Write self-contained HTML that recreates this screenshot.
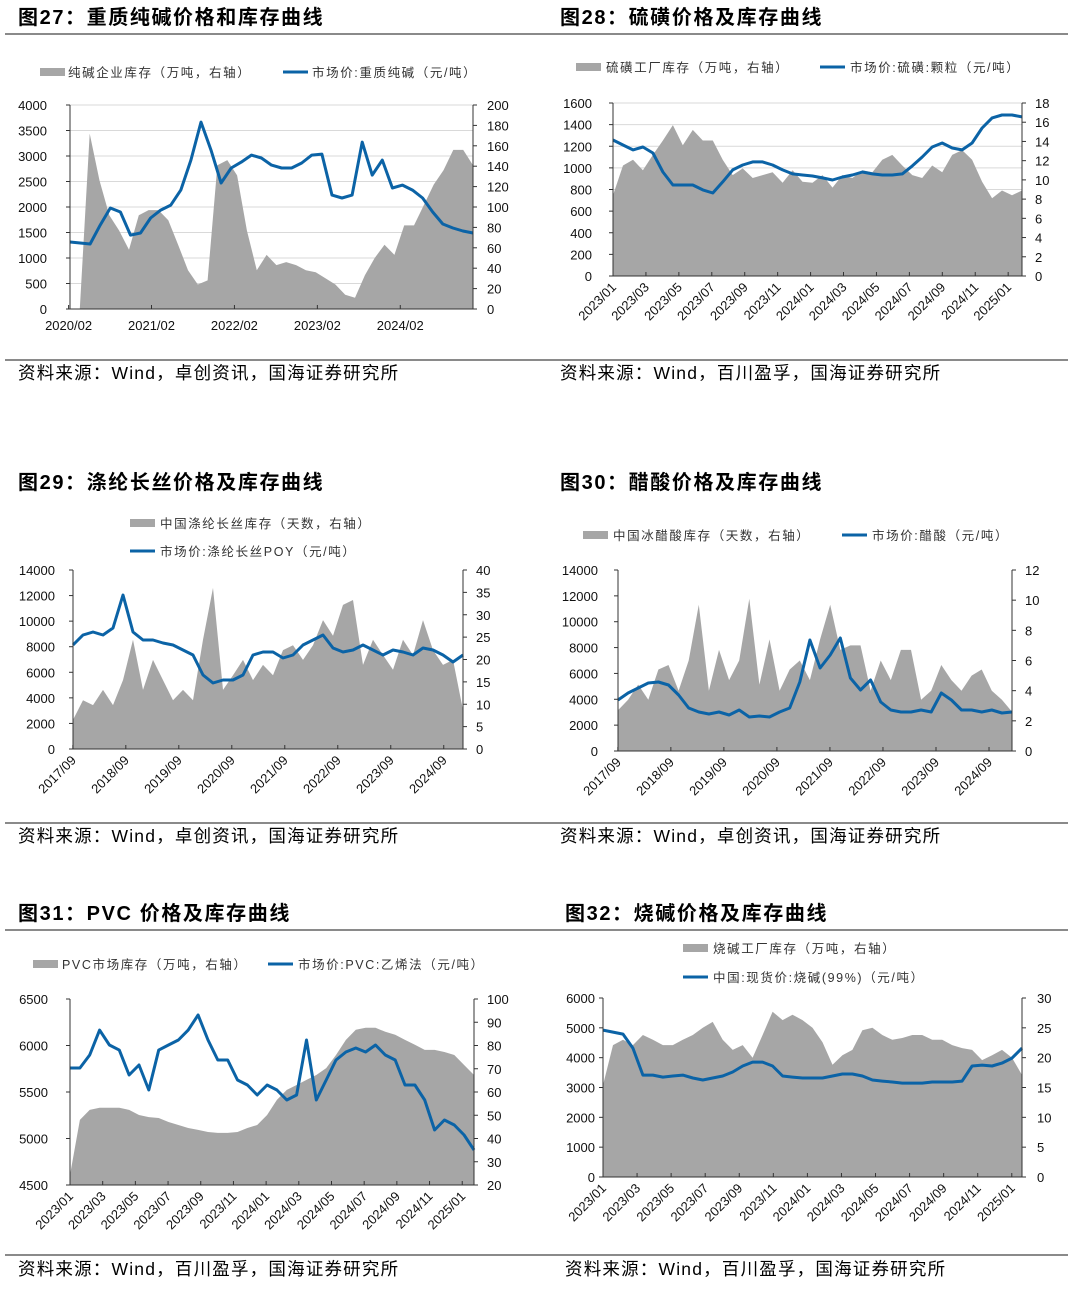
<!DOCTYPE html>
<html><head><meta charset="utf-8">
<style>
html,body{margin:0;padding:0;background:#fff;}
svg{display:block;font-family:"Liberation Sans","Noto Sans CJK SC",sans-serif;}
.title{font-size:20px;font-weight:bold;fill:#000;letter-spacing:1.6px;}
.src{font-size:17.5px;fill:#000;letter-spacing:1.2px;}
.leg{font-size:12.5px;fill:#333;letter-spacing:1.6px;}
.tick{font-size:13px;fill:#111;}
</style></head>
<body>
<svg id="page" width="1080" height="1292" viewBox="0 0 1080 1292" xmlns="http://www.w3.org/2000/svg">
<text class="title" x="18" y="24">图27：重质纯碱价格和库存曲线</text>
<text class="title" x="560" y="24">图28：硫磺价格及库存曲线</text>
<text class="title" x="18" y="489">图29：涤纶长丝价格及库存曲线</text>
<text class="title" x="560" y="489">图30：醋酸价格及库存曲线</text>
<text class="title" x="18" y="920">图31：PVC 价格及库存曲线</text>
<text class="title" x="565" y="920">图32：烧碱价格及库存曲线</text>
<line x1="5" y1="34" x2="1068" y2="34" stroke="#444" stroke-width="1.2"/>
<line x1="5" y1="360" x2="1068" y2="360" stroke="#444" stroke-width="1.2"/>
<line x1="5" y1="823" x2="1068" y2="823" stroke="#444" stroke-width="1.2"/>
<line x1="5" y1="930" x2="1068" y2="930" stroke="#444" stroke-width="1.2"/>
<line x1="5" y1="1255" x2="1068" y2="1255" stroke="#444" stroke-width="1.2"/>
<text class="src" x="18" y="379">资料来源：Wind，卓创资讯，国海证券研究所</text>
<text class="src" x="560" y="379">资料来源：Wind，百川盈孚，国海证券研究所</text>
<text class="src" x="18" y="842">资料来源：Wind，卓创资讯，国海证券研究所</text>
<text class="src" x="560" y="842">资料来源：Wind，卓创资讯，国海证券研究所</text>
<text class="src" x="18" y="1275">资料来源：Wind，百川盈孚，国海证券研究所</text>
<text class="src" x="565" y="1275">资料来源：Wind，百川盈孚，国海证券研究所</text>
<g>
<rect x="40" y="68" width="25" height="8" fill="#a6a6a6"/>
<text class="leg" x="68" y="77">纯碱企业库存（万吨，右轴）</text>
<line x1="283" y1="72" x2="308" y2="72" stroke="#0b63a6" stroke-width="3"/>
<text class="leg" x="312" y="77">市场价:重质纯碱（元/吨）</text>
</g>
<g>
<rect x="576" y="63" width="25" height="8" fill="#a6a6a6"/>
<text class="leg" x="606" y="72">硫磺工厂库存（万吨，右轴）</text>
<line x1="820" y1="67" x2="845" y2="67" stroke="#0b63a6" stroke-width="3"/>
<text class="leg" x="850" y="72">市场价:硫磺:颗粒（元/吨）</text>
</g>
<g>
<rect x="130" y="519" width="25" height="8" fill="#a6a6a6"/>
<text class="leg" x="160" y="528">中国涤纶长丝库存（天数，右轴）</text>
<line x1="130" y1="551" x2="155" y2="551" stroke="#0b63a6" stroke-width="3"/>
<text class="leg" x="160" y="556">市场价:涤纶长丝POY（元/吨）</text>
</g>
<g>
<rect x="583" y="531" width="25" height="8" fill="#a6a6a6"/>
<text class="leg" x="613" y="540">中国冰醋酸库存（天数，右轴）</text>
<line x1="842" y1="535" x2="867" y2="535" stroke="#0b63a6" stroke-width="3"/>
<text class="leg" x="872" y="540">市场价:醋酸（元/吨）</text>
</g>
<g>
<rect x="33" y="960" width="25" height="8" fill="#a6a6a6"/>
<text class="leg" x="62" y="969">PVC市场库存（万吨，右轴）</text>
<line x1="268" y1="964" x2="293" y2="964" stroke="#0b63a6" stroke-width="3"/>
<text class="leg" x="298" y="969">市场价:PVC:乙烯法（元/吨）</text>
</g>
<g>
<rect x="683" y="944" width="25" height="8" fill="#a6a6a6"/>
<text class="leg" x="713" y="953">烧碱工厂库存（万吨，右轴）</text>
<line x1="683" y1="977" x2="708" y2="977" stroke="#0b63a6" stroke-width="3"/>
<text class="leg" x="713" y="982">中国:现货价:烧碱(99%)（元/吨）</text>
</g>
<g id="charts"></g>
</svg>
<script>
// ---- Chart 27: 重质纯碱 ----
const c27Price=[1313,1294,1274,1646,1980,1901,1450,1490,1784,1940,2038,2332,2920,3665,3116,2470,2764,2881,3018,2960,2822,2764,2764,2862,3018,3038,2234,2176,2234,3273,2626,2920,2372,2430,2332,2176,1901,1666,1588,1529,1490];
const c27Inv=[0,0,172,126,92,77,58,92,97,97,87,63,38,24,28,141,146,131,77,38,53,43,46,43,38,36,30,24,14,11,33,50,63,53,82,82,102,122,136,156,156,141];
const c27XTicks=["2020/02","2021/02","2022/02","2023/02","2024/02"];
const c27XTickDates=[2020.083,2021.083,2022.083,2023.083,2024.083];
const c27Span=[2020.1,2024.96];
// ---- Chart 28: 硫磺 ----
const c28Price=[1258,1212,1166,1193,1138,962,842,842,842,796,768,870,981,1027,1055,1055,1027,981,944,934,925,907,888,916,934,962,944,934,934,944,1018,1101,1193,1230,1184,1166,1230,1369,1462,1489,1489,1471];
const c28Inv=[8.4,11.5,12.1,11.0,12.6,14.1,15.7,13.6,15.2,14.1,14.1,12.1,10.5,11.2,10.2,10.5,10.8,9.7,11.0,9.8,9.7,10.5,9.2,10.5,10.2,11.0,10.8,12.1,12.6,11.5,10.5,10.2,11.5,10.8,12.6,13.1,12.1,9.8,8.1,8.9,8.4,8.9];
const c28XTicks=["2023/01","2023/03","2023/05","2023/07","2023/09","2023/11","2024/01","2024/03","2024/05","2024/07","2024/09","2024/11","2025/01"];
const c28Span=[2023.0,2025.07];
// ---- Chart 29: 涤纶长丝 ----
const c29Price=[8133,8915,9149,8915,9462,12043,9149,8524,8524,8289,8133,7742,7351,5787,5161,5396,5396,5787,7351,7585,7585,7116,7351,8133,8524,8915,7898,7585,7742,8133,7742,7351,7742,7585,7351,7898,7742,7351,6803,7351];
const c29Inv=[6.5,10.9,9.8,13.2,9.8,15.4,24.4,13.2,19.9,15.4,10.9,13.2,10.9,24.4,36,13.2,16.5,19.9,15.4,18.8,16.5,22.1,23.2,19.9,23.2,28.8,25.3,32.2,33.3,18.8,24.4,21.0,17.7,24.4,21.0,28.8,22.1,18.8,19.9,8.7];
const c29XTicks=["2017/09","2018/09","2019/09","2020/09","2021/09","2022/09","2023/09","2024/09"];
const c29Span=[2017.67,2025.03];
// ---- Chart 30: 醋酸 ----
const c30Price=[3945,4486,4873,5260,5337,5105,4332,3326,3017,2862,3017,2785,3171,2630,2707,2630,3017,3326,5337,8586,6420,7426,8741,5647,4718,5492,3790,3171,3017,3017,3171,3017,4486,3945,3171,3171,3017,3171,2939,3017];
const c30Inv=[2.7,3.4,4.4,3.4,5.4,5.7,4.0,6.0,9.7,4.0,6.7,4.7,6.0,10.1,4.4,7.4,4.0,5.4,6.0,4.7,7.4,9.7,6.7,7.0,7.0,4.0,6.0,4.7,6.7,6.7,3.4,4.0,5.7,4.7,4.0,5.0,5.4,4.0,3.4,2.6];
const c30XTicks=["2017/09","2018/09","2019/09","2020/09","2021/09","2022/09","2023/09","2024/09"];
const c30Span=[2017.67,2025.1];
// ---- Chart 31: PVC ----
const c31Price=[5758,5758,5898,6166,6005,5951,5683,5790,5521,5951,6005,6059,6166,6328,6059,5844,5844,5629,5575,5468,5575,5521,5414,5468,6059,5414,5629,5844,5930,5973,5930,6005,5898,5844,5575,5575,5414,5091,5199,5145,5038,4876];
const c31Inv=[24.3,48.0,52.3,53.2,53.2,53.2,52.3,50.1,49.2,48.8,47.1,45.8,44.5,43.7,42.8,42.4,42.4,42.8,44.5,45.8,50.1,56.6,60.9,63.0,65.2,67.3,70.3,75.9,82.4,86.8,87.6,87.6,85.9,84.6,82.4,80.3,78.1,78.1,77.2,75.9,71.6,67.3];
const c31XTicks=["2023/01","2023/03","2023/05","2023/07","2023/09","2023/11","2024/01","2024/03","2024/05","2024/07","2024/09","2024/11","2025/01"];
const c31Span=[2023.0,2025.06];
// ---- Chart 32: 烧碱 ----
const c32Price=[4925,4858,4791,4322,3417,3417,3350,3384,3417,3317,3250,3317,3384,3518,3719,3853,3853,3719,3384,3350,3317,3317,3317,3384,3451,3451,3384,3250,3216,3183,3149,3149,3149,3183,3183,3183,3216,3719,3752,3719,3819,3987,4322];
const c32Inv=[15.4,22.1,23.0,22.1,23.8,23.0,22.1,22.1,23.0,23.8,25.0,26.0,23.0,21.3,22.1,20.0,23.8,27.7,26.3,27.2,26.3,25.0,22.6,18.8,20.4,21.3,24.6,25.0,23.8,23.0,23.3,23.8,23.8,23.0,23.0,22.1,21.6,21.3,19.6,20.4,21.3,20.0,17.1];
const c32XTicks=["2023/01","2023/03","2023/05","2023/07","2023/09","2023/11","2024/01","2024/03","2024/05","2024/07","2024/09","2024/11","2025/01"];
const c32Span=[2023.0,2025.05];

const NS="http://www.w3.org/2000/svg";
const root=document.getElementById('charts');
function mk(tag,attrs,parent){const e=document.createElementNS(NS,tag);for(const k in attrs)e.setAttribute(k,attrs[k]);parent.appendChild(e);return e;}
function labelDate(s){const p=s.split('/');return +p[0]+(+p[1]-1)/12;}

function drawChart(id,L,price,inv,span,xt,xtDates,lDom,lStep,rDom,rStep){
  const g=mk('g',{},root);
  
  
  const xS=t=>L.x0+(t-span[0])/(span[1]-span[0])*(L.x1-L.x0);
  const yL=v=>L.y1-(v-lDom[0])/(lDom[1]-lDom[0])*(L.y1-L.y0);
  const yR=v=>L.y1-(v-rDom[0])/(rDom[1]-rDom[0])*(L.y1-L.y0);
  const tAt=(i,n)=>span[0]+i/(n-1)*(span[1]-span[0]);
  if(L.grid){for(let v=lDom[0]+lStep;v<=lDom[1]+1e-6;v+=lStep){const gl=mk('line',{x1:L.x0,x2:L.x1,y1:yL(v),y2:yL(v),stroke:'#d9d9d9','stroke-width':1},g);
    
    }}
  let d='M'+xS(tAt(0,inv.length))+','+L.y1;
  inv.forEach((v,i)=>{d+=' L'+xS(tAt(i,inv.length)).toFixed(1)+','+yR(v).toFixed(1);});
  d+=' L'+xS(tAt(inv.length-1,inv.length))+','+L.y1+' Z';
  const a=mk('path',{d:d,fill:'#a6a6a6'},g);
  
  
  let ld='';
  price.forEach((v,i)=>{ld+=(i?' L':'M')+xS(tAt(i,price.length)).toFixed(1)+','+yL(v).toFixed(1);});
  const ln=mk('path',{d:ld,fill:'none',stroke:'#0b63a6','stroke-width':3,'stroke-linejoin':'round'},g);
  
  
  const ax=mk('path',{d:`M${L.x0},${L.y0} V${L.y1} H${L.x1} V${L.y0}`,fill:'none',stroke:'#333','stroke-width':1},g);
  
  
  for(let v=lDom[0];v<=lDom[1]+1e-6;v+=lStep){
    const t=mk('text',{x:L.lx,y:yL(v)+5,'text-anchor':'end',class:'tick'},g);t.textContent=v;
    
    
    const tk=mk('line',{x1:L.x0-4,x2:L.x0,y1:yL(v),y2:yL(v),stroke:'#333'},g);
    
    
  }
  for(let v=rDom[0];v<=rDom[1]+1e-6;v+=rStep){
    const t=mk('text',{x:L.rx,y:yR(v)+5,'text-anchor':'start',class:'tick'},g);t.textContent=Math.round(v);
    
    
    const tk=mk('line',{x1:L.x1,x2:L.x1+4,y1:yR(v),y2:yR(v),stroke:'#333'},g);
    
    
  }
  xt.forEach((s,i)=>{
    const t0=xtDates?xtDates[i]:labelDate(s);const x=xS(t0);
    const tk=mk('line',{x1:x,x2:x,y1:L.y1,y2:L.y1-4,stroke:'#333'},g);
    
    
    let t;
    if(L.rot){t=mk('text',{x:x+4,y:L.y1+12,'text-anchor':'end',class:'tick',transform:`rotate(-45 ${x+4} ${L.y1+12})`},g);}
    else{t=mk('text',{x:x,y:L.y1+21,'text-anchor':'middle',class:'tick'},g);}
    t.textContent=s;
    
    
  });
}
drawChart('chart27',{x0:70,x1:473,y0:105,y1:309,lx:47,rx:487,grid:true,rot:false},c27Price,c27Inv,c27Span,c27XTicks,c27XTickDates,[0,4000],500,[0,200],20);
drawChart('chart28',{x0:613,x1:1022,y0:103,y1:276,lx:592,rx:1035,grid:true,rot:true},c28Price,c28Inv,c28Span,c28XTicks,null,[0,1600],200,[0,18],2);
drawChart('chart29',{x0:73,x1:463,y0:570,y1:749,lx:55,rx:476,grid:false,rot:true},c29Price,c29Inv,c29Span,c29XTicks,null,[0,14000],2000,[0,40],5);
drawChart('chart30',{x0:618,x1:1012,y0:570,y1:751,lx:598,rx:1025,grid:false,rot:true},c30Price,c30Inv,c30Span,c30XTicks,null,[0,14000],2000,[0,12],2);
drawChart('chart31',{x0:70,x1:474,y0:999,y1:1185,lx:48,rx:487,grid:false,rot:true},c31Price,c31Inv,c31Span,c31XTicks,null,[4500,6500],500,[20,100],10);
drawChart('chart32',{x0:603,x1:1022,y0:998,y1:1177,lx:595,rx:1037,grid:false,rot:true},c32Price,c32Inv,c32Span,c32XTicks,null,[0,6000],1000,[0,30],5);
</script>
</body></html>
